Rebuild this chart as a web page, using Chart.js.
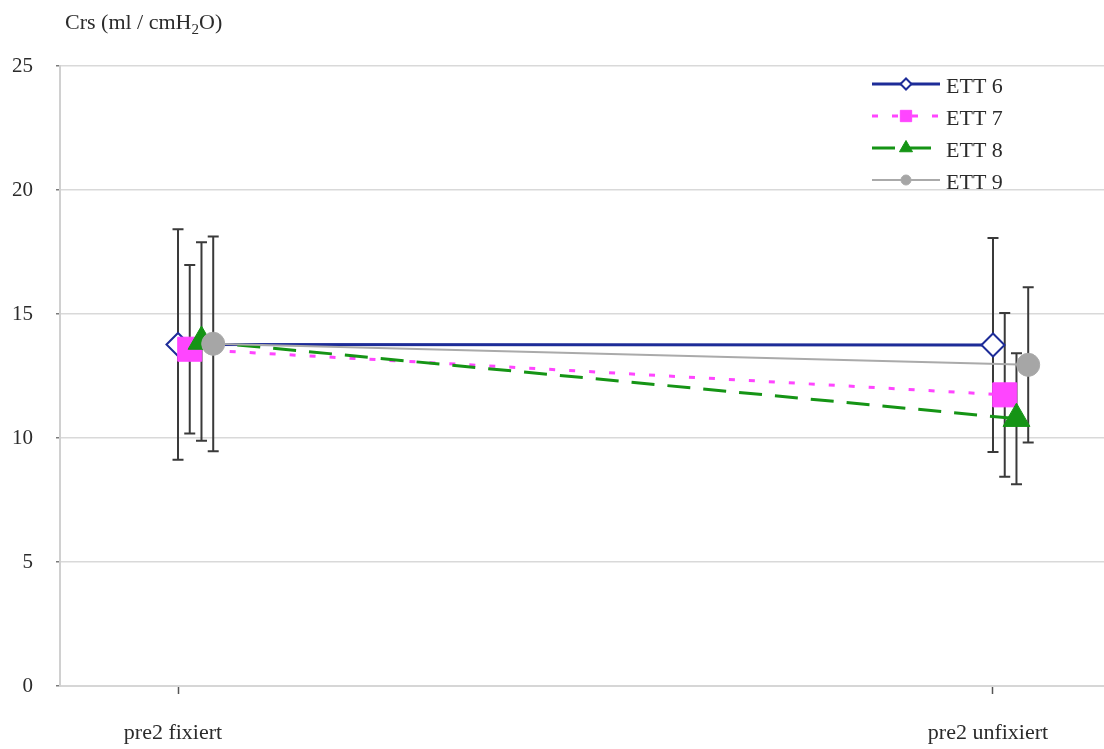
<!DOCTYPE html>
<html>
<head>
<meta charset="utf-8">
<title>Crs</title>
<script src="https://cdn.jsdelivr.net/npm/chart.js@4/dist/chart.umd.min.js"></script>
<style>
  html, body { margin: 0; padding: 0; background: #ffffff; }
  #wrap { width: 1104px; height: 749px; }
</style>
</head>
<body>
<div id="wrap"><canvas id="chart" width="1104" height="749"></canvas></div>
<script>
// Compliance of the respiratory system, mean ± SD per tube size
const categories = ['pre2 fixiert', 'pre2 unfixiert'];
const seriesNames = ['ETT 6', 'ETT 7', 'ETT 8', 'ETT 9'];

const ett6Mean = [13.77, 13.75];
const ett6Sd   = [4.65, 4.31];
const ett7Mean = [13.58, 11.74];
const ett7Sd   = [3.40, 3.30];
const ett8Mean = [13.89, 10.78];
const ett8Sd   = [4.00, 2.64];
const ett9Mean = [13.80, 12.95];
const ett9Sd   = [4.33, 3.13];

const yTicks = [0, 5, 10, 15, 20, 25];

const SERIF = "'Liberation Serif', 'Times New Roman', serif";
const TEXT = '#2b2b2b';

// small horizontal shift so the four series sit side by side at each category
const seriesShift = 0.0144;

const styles = [
  { color: '#1d2c98', fill: '#ffffff', width: 3, dash: [],       style: 'rectRot',  radius: 11.5, bw: 2,   legendRadius: 5.5 },
  { color: '#ff45ff', fill: '#ff45ff', width: 3, dash: [6, 14],  style: 'rect',     radius: 17,   bw: 1,   legendRadius: 8 },
  { color: '#159415', fill: '#159415', width: 3, dash: [23, 13], style: 'triangle', radius: 15.5, bw: 1,   legendRadius: 7.5 },
  { color: '#aaaaaa', fill: '#a6a6a6', width: 2, dash: [],       style: 'circle',   radius: 11.5, bw: 1,   legendRadius: 5 }
];

const means = [ett6Mean, ett7Mean, ett8Mean, ett9Mean];
const sds = [ett6Sd, ett7Sd, ett8Sd, ett9Sd];

const datasets = seriesNames.map((name, s) => {
  const st = styles[s];
  return {
    label: name,
    data: means[s].map((v, i) => ({ x: i + s * seriesShift, y: v })),
    errors: sds[s],
    borderColor: st.color,
    backgroundColor: st.fill,
    borderWidth: st.width,
    borderDash: st.dash,
    pointStyle: st.style,
    pointRadius: st.radius,
    pointBorderWidth: st.bw,
    pointBorderColor: st.color,
    pointBackgroundColor: st.fill,
    legendRadius: st.legendRadius,
    tension: 0,
    fill: false,
    clip: false,
    order: seriesNames.length - s
  };
});

// vertical ± SD whiskers, drawn under the lines and markers
const errorBars = {
  id: 'errorBars',
  beforeDatasetsDraw(chart) {
    const { ctx } = chart;
    const y = chart.scales.y;
    const cap = 5.5;
    ctx.save();
    ctx.strokeStyle = '#3a3a3a';
    ctx.lineWidth = 2;
    chart.data.datasets.forEach((ds, i) => {
      const meta = chart.getDatasetMeta(i);
      meta.data.forEach((pt, j) => {
        const v = ds.data[j].y;
        const e = ds.errors[j];
        const top = y.getPixelForValue(v + e);
        const bot = y.getPixelForValue(v - e);
        ctx.beginPath();
        ctx.moveTo(pt.x, top); ctx.lineTo(pt.x, bot);
        ctx.moveTo(pt.x - cap, top); ctx.lineTo(pt.x + cap, top);
        ctx.moveTo(pt.x - cap, bot); ctx.lineTo(pt.x + cap, bot);
        ctx.stroke();
      });
    });
    ctx.restore();
  }
};

// axis title with subscript, top left
const axisTitle = {
  id: 'axisTitle',
  afterDraw(chart) {
    const { ctx } = chart;
    ctx.save();
    ctx.fillStyle = TEXT;
    ctx.textBaseline = 'alphabetic';
    ctx.textAlign = 'left';
    let x = 65;
    const base = 29;
    const parts = [
      { t: 'Crs (ml / cmH', size: 22, dy: 0 },
      { t: '2', size: 15, dy: 5 },
      { t: 'O)', size: 22, dy: 0 }
    ];
    parts.forEach(p => {
      ctx.font = p.size + 'px ' + SERIF;
      ctx.fillText(p.t, x, base + p.dy);
      x += ctx.measureText(p.t).width;
    });
    ctx.restore();
  }
};

// line-and-marker legend in the upper right corner
const lineLegend = {
  id: 'lineLegend',
  afterDraw(chart) {
    const { ctx } = chart;
    const x0 = 872, x1 = 940, textX = 946;
    const rows = [84, 116, 148, 180];
    ctx.save();
    chart.data.datasets.forEach((ds, i) => {
      const yy = rows[i];
      ctx.save();
      ctx.strokeStyle = ds.borderColor;
      ctx.lineWidth = ds.borderWidth;
      ctx.setLineDash(ds.borderDash);
      ctx.beginPath();
      ctx.moveTo(x0, yy); ctx.lineTo(x1, yy);
      ctx.stroke();
      ctx.restore();
      ctx.save();
      ctx.fillStyle = ds.pointBackgroundColor;
      ctx.strokeStyle = ds.pointBorderColor;
      ctx.lineWidth = ds.pointBorderWidth;
      Chart.helpers.drawPoint(ctx, {
        pointStyle: ds.pointStyle,
        radius: ds.legendRadius,
        rotation: 0,
        borderWidth: ds.pointBorderWidth
      }, (x0 + x1) / 2, yy);
      ctx.restore();
      ctx.fillStyle = TEXT;
      ctx.font = '22px ' + SERIF;
      ctx.textBaseline = 'middle';
      ctx.textAlign = 'left';
      ctx.fillText(ds.label, textX, yy + 3);
    });
    ctx.restore();
  }
};

new Chart(document.getElementById('chart'), {
  type: 'line',
  data: { datasets },
  plugins: [errorBars, axisTitle, lineLegend],
  options: {
    responsive: false,
    animation: false,
    events: [],
    layout: {
      autoPadding: false,
      padding: { top: 66, right: 0, bottom: 0, left: 0 }
    },
    plugins: {
      legend: { display: false },
      tooltip: { enabled: false },
      title: { display: false }
    },
    scales: {
      x: {
        type: 'linear',
        min: -0.1448,
        max: 1.1362,
        afterBuildTicks(scale) {
          scale.ticks = categories.map((c, i) => ({ value: i }));
        },
        afterFit(scale) {
          scale.height = 63;
          scale.paddingLeft = 0;
          scale.paddingRight = 0;
        },
        ticks: {
          callback: (v) => categories[v],
          font: { family: SERIF, size: 22 },
          color: TEXT,
          padding: 26,
          labelOffset: -5,
          maxRotation: 0,
          autoSkip: false
        },
        grid: {
          drawOnChartArea: false,
          drawTicks: true,
          tickLength: 8,
          tickColor: '#555555',
          tickWidth: 1.5
        },
        border: { display: true, color: '#d6d6d6', width: 2 }
      },
      y: {
        min: 0,
        max: 25,
        afterBuildTicks(scale) {
          scale.ticks = yTicks.map(v => ({ value: v }));
        },
        afterFit(scale) {
          scale.width = 60;
          scale.paddingTop = 0;
          scale.paddingBottom = 0;
        },
        ticks: {
          font: { family: SERIF, size: 21 },
          color: TEXT,
          padding: 23
        },
        grid: {
          color: '#d9d9d9',
          lineWidth: 1.5,
          drawTicks: true,
          tickLength: 4,
          tickColor: '#7a7a7a'
        },
        border: { display: true, color: '#d0d0d0', width: 2 }
      }
    }
  }
});
</script>
</body>
</html>
